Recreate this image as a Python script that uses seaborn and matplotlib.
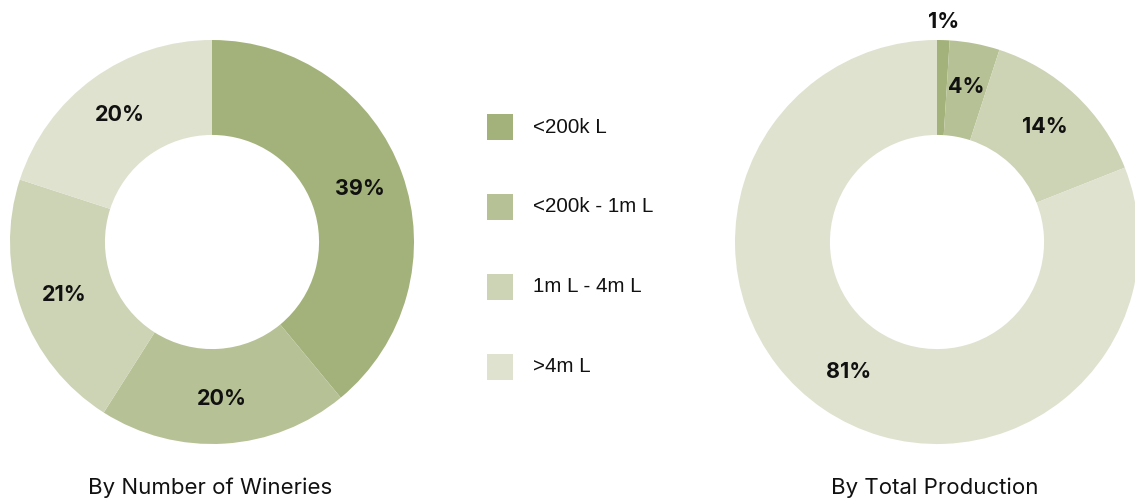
import numpy as np
import matplotlib
matplotlib.use("Agg")
import matplotlib.pyplot as plt
from matplotlib.patches import Rectangle
import seaborn as sns

sns.set_theme(style="white")
plt.rcParams["font.family"] = ["Inter", "DejaVu Sans"]

categories = ["<200k L", "<200k - 1m L", "1m L - 4m L", ">4m L"]
wineries_pct = [39, 20, 21, 20]
production_pct = [1, 4, 14, 81]
titles = ["By Number of Wineries", "By Total Production"]
palette = ["#A3B27A", "#B7C196", "#CDD3B5", "#DFE2CF"]

W, H = 1135, 501
fig = plt.figure(figsize=(W / 100, H / 100), dpi=100)
fig.patch.set_facecolor("white")

# pixel-coordinate overlay for the legend and captions
overlay = fig.add_axes([0, 0, 1, 1], zorder=0)
overlay.set_xlim(0, W)
overlay.set_ylim(H, 0)
overlay.axis("off")

R = 202  # outer radius in px


def donut(cx, cy, values, title, outside=()):
    ax = fig.add_axes([(cx - R) / W, (H - cy - R) / H, 2 * R / W, 2 * R / H], zorder=1)
    ax.pie(values, colors=palette, startangle=90, counterclock=False,
           radius=1.0, wedgeprops=dict(width=0.47, edgecolor="none"))
    ax.set_xlim(-1, 1)
    ax.set_ylim(-1, 1)
    ax.set_aspect("equal")
    ax.axis("off")
    total = float(sum(values))
    cum = 0.0
    for i, v in enumerate(values):
        mid = (cum + v / 2) / total * 2 * np.pi
        cum += v
        r = 1.09 if i in outside else 0.78
        ax.text(r * np.sin(mid), r * np.cos(mid), f"{v}%", ha="center", va="center",
                fontsize=15.5, fontweight="bold", color="#111111", clip_on=False)
    overlay.text(cx - 2, 488, title, ha="center", va="center",
                 fontsize=16, color="#111111")


donut(212, 242, wineries_pct, titles[0])
donut(937, 242, production_pct, titles[1], outside=(0,))

# legend: colour squares with labels
for i, (lab, col) in enumerate(zip(categories, palette)):
    yc = 127 + 80 * i
    overlay.add_patch(Rectangle((487, yc - 13), 26, 26, facecolor=col, edgecolor="none"))
    overlay.text(533, yc, lab, ha="left", va="center", fontsize=14.8,
                 family=["Liberation Sans"], color="#111111")

fig.savefig("out.png", dpi=100, facecolor="white")
